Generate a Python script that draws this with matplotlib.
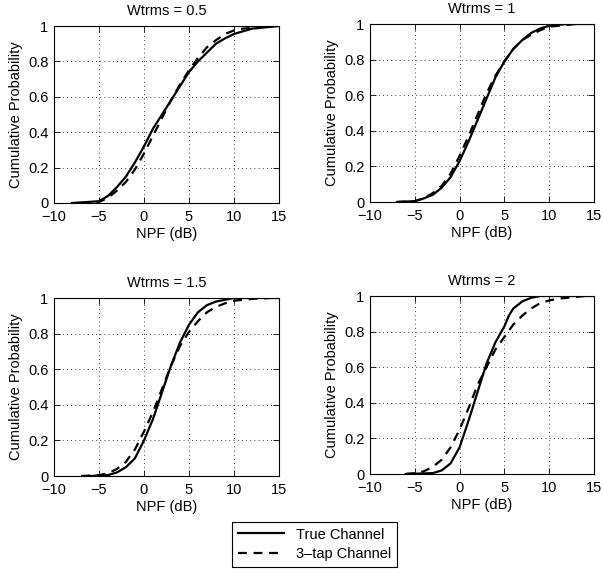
import matplotlib
matplotlib.use('Agg')
import matplotlib.pyplot as plt
from matplotlib.lines import Line2D
import numpy as np

plt.rcParams['font.family'] = ['Liberation Sans', 'DejaVu Sans']
plt.rcParams['font.size'] = 10.5

# panel titles
titles = ['Wtrms = 0.5', 'Wtrms = 1', 'Wtrms = 1.5', 'Wtrms = 2']

# Wtrms = 0.5
x_true_05 = [-8, -5, -4, -3, -2, -1, 0, 1, 2, 3, 4, 5, 6, 7, 8, 9, 10, 11, 12, 13, 14, 15]
y_true_05 = [0, 0.01, 0.04, 0.09, 0.15, 0.23, 0.32, 0.42, 0.5, 0.58, 0.66, 0.74, 0.8, 0.85, 0.9, 0.93, 0.955, 0.97, 0.985, 0.99, 0.995, 1]
x_tap_05 = [-7, -5, -4, -3, -2, -1, 0, 1, 2, 3, 4, 5, 6, 7, 8, 9, 10, 11, 12, 13, 14]
y_tap_05 = [0, 0.005, 0.03, 0.07, 0.12, 0.19, 0.28, 0.38, 0.48, 0.58, 0.67, 0.75, 0.82, 0.88, 0.92, 0.955, 0.975, 0.985, 0.99, 0.995, 1]

# Wtrms = 1
x_true_1 = [-7, -5, -4, -3, -2, -1, 0, 1, 2, 3, 4, 5, 6, 7, 8, 9, 10, 11, 12, 15]
y_true_1 = [0, 0.005, 0.02, 0.04, 0.08, 0.14, 0.23, 0.34, 0.46, 0.58, 0.7, 0.79, 0.86, 0.91, 0.95, 0.975, 0.99, 0.995, 1, 1]
x_tap_1 = [-7, -5, -4, -3, -2, -1, 0, 1, 2, 3, 4, 5, 6, 7, 8, 9, 10, 11, 12, 13]
y_tap_1 = [0, 0.005, 0.02, 0.05, 0.09, 0.16, 0.26, 0.37, 0.49, 0.61, 0.71, 0.79, 0.86, 0.91, 0.94, 0.965, 0.985, 0.99, 0.995, 1]

# Wtrms = 1.5
x_true_15 = [-6, -4, -3, -2, -1, 0, 1, 2, 3, 4, 5, 6, 7, 8, 9, 10, 15]
y_true_15 = [0, 0.005, 0.02, 0.05, 0.1, 0.2, 0.32, 0.47, 0.62, 0.75, 0.85, 0.92, 0.96, 0.98, 0.99, 1, 1]
x_tap_15 = [-7, -5, -4, -3, -2, -1, 0, 1, 2, 3, 4, 5, 6, 7, 8, 9, 10, 11, 12, 14]
y_tap_15 = [0, 0.005, 0.015, 0.04, 0.08, 0.15, 0.25, 0.36, 0.49, 0.62, 0.73, 0.81, 0.87, 0.92, 0.95, 0.97, 0.985, 0.99, 0.995, 1]

# Wtrms = 2
x_true_2 = [-6, -3, -2, -1, 0, 1, 2, 3, 4, 5, 5.5, 6, 7, 8, 9, 15]
y_true_2 = [0, 0.005, 0.02, 0.06, 0.15, 0.3, 0.46, 0.62, 0.74, 0.83, 0.89, 0.93, 0.97, 0.99, 1, 1]
x_tap_2 = [-6, -5, -4, -3, -2, -1, 0, 1, 2, 3, 4, 5, 6, 7, 8, 9, 10, 11, 12, 13, 14]
y_tap_2 = [0, 0.005, 0.015, 0.04, 0.08, 0.15, 0.25, 0.37, 0.5, 0.6, 0.7, 0.77, 0.84, 0.89, 0.93, 0.96, 0.975, 0.985, 0.99, 0.995, 1]

true_x = [x_true_05, x_true_1, x_true_15, x_true_2]
true_y = [y_true_05, y_true_1, y_true_15, y_true_2]
tap_x = [x_tap_05, x_tap_1, x_tap_15, x_tap_2]
tap_y = [y_tap_05, y_tap_1, y_tap_15, y_tap_2]

x_ticks = [-10, -5, 0, 5, 10, 15]
y_ticks = [0, 0.2, 0.4, 0.6, 0.8, 1]
y_tick_labels = ['0', '0.2', '0.4', '0.6', '0.8', '1']

W, H = 603, 573
fig = plt.figure(figsize=(W / 100, H / 100), dpi=100)

# axes boxes in pixels: left, top, right, bottom
boxes = [(54, 26, 279, 203), (370, 24, 594, 202),
         (54, 298, 279, 476), (370, 296, 594, 474)]

for i, (l, t, r, b) in enumerate(boxes):
    ax = fig.add_axes([l / W, 1 - b / H, (r - l) / W, (b - t) / H])
    ax.plot(true_x[i], true_y[i], color='black', lw=1.6, ls='-')
    ax.plot(tap_x[i], tap_y[i], color='black', lw=1.6, ls=(0, (4, 3)))
    ax.set_xlim(-10, 15)
    ax.set_ylim(0, 1)
    ax.set_xticks(x_ticks)
    ax.set_xticklabels([str(v).replace('-', '\u2212') for v in x_ticks])
    ax.set_yticks(y_ticks)
    ax.set_yticklabels(y_tick_labels)
    ax.grid(True, color='black', ls=(0, (1, 4)), lw=0.6)
    ax.tick_params(direction='in', length=4, width=0.6, top=True, right=True)
    ax.tick_params(axis='x', pad=5)
    ax.tick_params(axis='y', pad=4)
    for s in ax.spines.values():
        s.set_linewidth(0.8)
    ax.set_title(titles[i], fontsize=10.5, pad=8)
    ax.set_xlabel('NPF (dB)', labelpad=2)
    ax.set_ylabel('Cumulative Probability', labelpad=4)

handles = [Line2D([], [], color='black', lw=1.6, ls='-'),
           Line2D([], [], color='black', lw=1.6, ls=(0, (4, 3)))]
leg = fig.legend(handles, ['True Channel', '3\u2013tap Channel'],
                 loc='center', bbox_to_anchor=(314.5 / W, 1 - 544.5 / H),
                 fancybox=False, edgecolor='black', framealpha=1,
                 handlelength=3.2, borderpad=0.4, labelspacing=0.4)
leg.get_frame().set_linewidth(0.8)

fig.savefig('out.png', dpi=100)
